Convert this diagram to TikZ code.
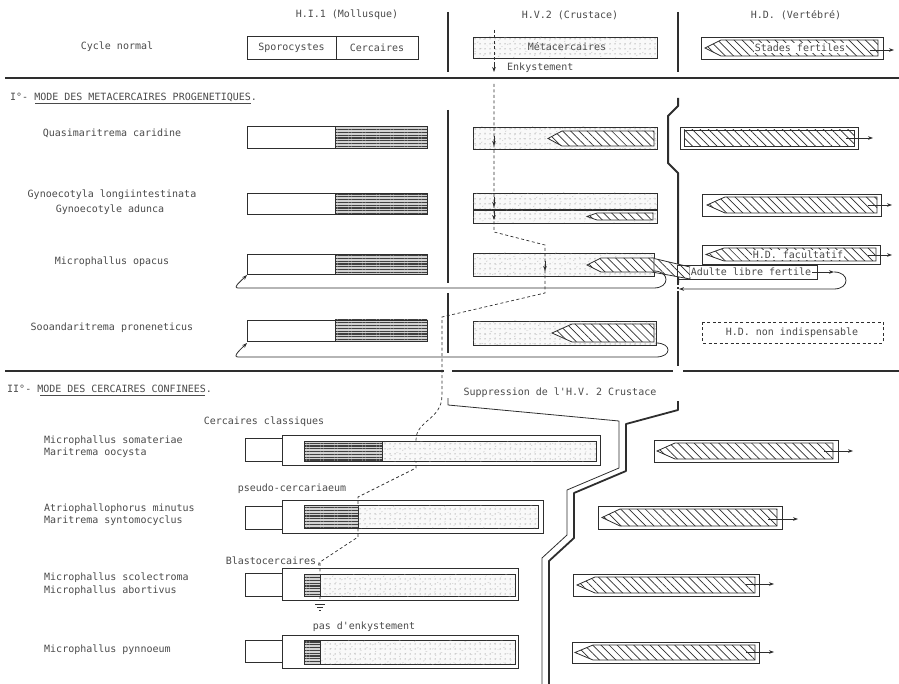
\documentclass[tikz,border=0pt]{standalone}
\usepackage{fontspec}
\newfontfamily\tw{DejaVu Sans Mono}
\usetikzlibrary{patterns.meta,arrows.meta}
\definecolor{lc}{HTML}{2E2E2E}
\definecolor{tc}{HTML}{4A4A4A}
\tikzset{
 ln/.style={draw=lc,line width=0.8pt},
 sec/.style={draw=lc,line width=2.4pt},
 vsep/.style={draw=lc,line width=2pt},
 lab/.style={font=\tw\fontsize{10}{12}\selectfont, text=tc, inner sep=0pt},
 stip/.style={preaction={fill=gray!5}, pattern={Dots[distance=5pt,radius=0.5pt]}, pattern color=gray!75!black,
   postaction={pattern={Dots[distance=6.5pt,radius=0.45pt,angle=25,xshift=2.2pt,yshift=1.6pt]}, pattern color=gray!70}},
 hatch/.style={preaction={fill=white}, pattern={Lines[angle=-45,distance=5.8pt,line width=0.7pt]}, pattern color=lc},
 hl/.style={preaction={fill=gray!35}, pattern={Lines[angle=0,distance=2.8pt,line width=1.3pt]}, pattern color=gray!50!black},
 dsh/.style={draw=lc,line width=0.7pt,dash pattern=on 3pt off 2.5pt},
 arr/.style={-{Stealth[length=5pt,width=3.6pt]}},
 sarr/.style={draw=lc,line width=0.7pt,-{Stealth[length=5pt,width=3.6pt]}},
}
\newcommand\pncl[5]{\draw[ln,hatch] (#1,{(#3+#4)/2}) -- ({#1+#5},#3) -- (#2,#3) -- (#2,#4) -- ({#1+#5},#4) -- cycle;}
\begin{document}
\begin{tikzpicture}[x=1pt,y=-1pt]
\useasboundingbox (0,0) rectangle (899,684);
% ---------- header
\node[lab] (hi) at (347,15) {H.I.1 (Mollusque)};
\node[lab] (hv) at (570,15) {H.V.2 (Crustace)};
\node[lab] (hd) at (796,15) {H.D. (Vertébré)};
\node[lab] (cn) at (117,47) {Cycle normal};
\draw[ln] (247,36) rectangle (418,59); \draw[ln] (336,36)--(336,59);
\node[lab] (spo) at (291.5,47.5) {Sporocystes};
\node[lab] (cer) at (377,47.5) {Cercaires};
\draw[ln,stip] (473,37) rectangle (657,58);
\node[lab] (met) at (567,47) {Métacercaires};
\coordinate (e0) at (494,30); \coordinate (e1) at (494,72);
\draw[dsh] (e0)--(494,64); \draw[sarr] (494,62)--(e1);
\node[lab,anchor=west] (enk) at (507,68) {Enkystement};
\draw[ln] (701,37) rectangle (883,59);
\pncl{705}{878}{40}{56}{16}
\node[lab,fill=white,inner sep=1pt] (sf) at (800,48) {Stades fertiles};
\draw[sarr] (870,50)--(894,50);
\draw[vsep] (448,12)--(448,72);
\draw[vsep] (678,12)--(678,72);
\draw[sec] (5,78)--(899,78);
% ---------- section I
\node[lab,anchor=west] (s1) at (10,97) {I°- MODE DES METACERCAIRES PROGENETIQUES.};
\draw[tc,line width=0.6pt] (35,103.5)--(251,103.5);
\draw[vsep] (448,110)--(448,283);
\draw[vsep] (448,293)--(448,353);
\draw[vsep,line join=round] (678,98)--(678,106)--(668,116)--(668,163)--(678,173)--(678,283);
\draw[lc,line width=1.6pt,dash pattern=on 2pt off 2pt] (678,283)--(678,293);
\draw[vsep] (678,293)--(678,366);
% row 1
\node[lab] (r1) at (112,133) {Quasimaritrema caridine};
\draw[ln] (247,126) rectangle (335,148); \draw[ln,hl] (335,126) rectangle (427,148);
\draw[ln,stip] (473,127) rectangle (657,149);
\pncl{548}{654}{131}{146}{14}
\draw[ln] (680,127) rectangle (858,149);
\draw[ln,hatch] (684,130) rectangle (854,146);
\draw[sarr] (846,138)--(873,138);
% row 2
\node[lab] (r2a) at (112,195) {Gynoecotyla longiintestinata};
\node[lab] (r2b) at (110,210) {Gynoecotyle adunca};
\draw[ln] (247,193) rectangle (335,214); \draw[ln,hl] (335,193) rectangle (427,214);
\draw[ln,stip] (473,193) rectangle (657,209);
\draw[ln,stip] (473,210) rectangle (657,223);
\pncl{587}{653}{213}{220}{10}
\draw[ln] (702,194) rectangle (881,216);
\pncl{707}{877}{197}{213}{18}
\draw[sarr] (868,205)--(892,205);
% row 3
\node[lab] (r3) at (112,262) {Microphallus opacus};
\draw[ln] (247,254) rectangle (335,274); \draw[ln,hl] (335,254) rectangle (427,274);
\draw[ln,stip] (473,253) rectangle (654,276);
\draw[ln,hatch] (652,258)--(690,267)--(690,279)--(652,272)--cycle;
\pncl{587}{654}{258}{272}{14}
\draw[ln] (677,265) rectangle (817,279);
\node[lab,fill=white,inner sep=0.8pt] (alf) at (751,272) {Adulte libre fertile};
\coordinate (a0) at (812,272); \coordinate (a1) at (834,272);
\draw[sarr] (a0)--(a1);
\draw[ln,arr] (834,272) .. controls (850,272) and (850,289) .. (834,289) -- (679,289);
\draw[ln,arr] (654,271) .. controls (670,271) and (670,288) .. (654,288) -- (238,288) to[out=180,in=225] (247,275);
\draw[ln] (702,245) rectangle (880,264);
\pncl{706}{876}{248}{261}{18}
\node[lab,fill=white,inner sep=1pt] (hdf) at (798,255) {H.D. facultatif};
\draw[sarr] (868,255)--(892,255);
% row 4
\node[lab] (r4) at (112,328) {Sooandaritrema proneneticus};
\draw[ln] (247,320) rectangle (335,341); \draw[ln,hl] (335,320) rectangle (427,341);
\draw[ln,stip] (473,321) rectangle (656,345);
\pncl{552}{654}{324}{342}{20}
\draw[ln,arr] (656,343) .. controls (672,343) and (672,357) .. (656,357) -- (238,357) to[out=180,in=225] (247,343);
\draw[dsh] (702,322) rectangle (883,343);
\node[lab] (hdn) at (792,333) {H.D. non indispensable};
% dashed route
\draw[dsh] (494,84) -- (494,232) -- (545,245) -- (545,293) -- (442,317) -- (442,395)
  .. controls (442,420) and (416,420) .. (416,440) -- (416,468) -- (358,497) -- (358,537) -- (320,562) -- (320,600);
\draw[sarr] (494,136)--(494,146);
\draw[sarr] (494,197)--(494,207);
\draw[sarr] (494,210)--(494,220);
\draw[sarr] (545,261)--(545,271);
\draw[sarr] (416,448)--(416,458);
\draw[sarr] (358,518)--(358,528);
\draw[sarr] (320,584)--(320,594);
\draw[lc,line width=0.6pt] (315,604)--(325,604) (317,607)--(323,607) (319,610)--(321,610);
% section II
\draw[sec] (5,371)--(444,371);
\draw[sec] (452,371)--(673,371);
\draw[sec] (683,371)--(899,371);
\node[lab,anchor=west] (s2) at (7,389) {II°- MODE DES CERCAIRES CONFINEES.};
\draw[tc,line width=0.6pt] (40,395.5)--(205,395.5);
\node[lab] (sup) at (560,393) {Suppression de l'H.V. 2 Crustace};
\draw[lc,line width=0.8pt,line join=round] (448,398)--(448,405)--(619,421)--(619,468)--(567,490)--(567,535)--(542,558)--(542,684);
\draw[lc,line width=1.8pt,line join=round] (678,401)--(678,410)--(626,424)--(626,471)--(574,493)--(574,538)--(549,561)--(549,684);
% II row 1
\node[lab] (cc) at (264,422) {Cercaires classiques};
\node[lab,anchor=west] (q1a) at (44,441) {Microphallus somateriae};
\node[lab,anchor=west] (q1b) at (44,453) {Maritrema oocysta};
\draw[ln] (245,438) rectangle (282,461);
\draw[ln] (282,435) rectangle (600,465);
\draw[ln,hl] (304,441) rectangle (382,461);
\draw[ln,stip] (382,441) rectangle (596,461);
\draw[ln] (654,440) rectangle (838,462);
\pncl{657}{833}{443}{459}{18}
\draw[sarr] (824,451)--(853,451);
% II row 2
\node[lab] (pc) at (292,489) {pseudo-cercariaeum};
\node[lab,anchor=west] (q2a) at (44,509) {Atriophallophorus minutus};
\node[lab,anchor=west] (q2b) at (44,521) {Maritrema syntomocyclus};
\draw[ln] (245,506) rectangle (282,529);
\draw[ln] (282,500) rectangle (543,533);
\draw[ln,hl] (304,505) rectangle (358,528);
\draw[ln,stip] (358,505) rectangle (538,528);
\draw[ln] (598,506) rectangle (782,529);
\pncl{602}{777}{509}{526}{18}
\draw[sarr] (768,519)--(798,519);
% II row 3
\node[lab] (bc) at (274,561) {Blastocercaires,};
\node[lab,anchor=west] (q3a) at (44,578) {Microphallus scolectroma};
\node[lab,anchor=west] (q3b) at (44,591) {Microphallus abortivus};
\draw[ln] (245,573) rectangle (282,596);
\draw[ln] (282,568) rectangle (518,600);
\draw[ln,hl] (304,574) rectangle (320,596);
\draw[ln,stip] (320,574) rectangle (515,596);
\draw[ln] (573,574) rectangle (759,596);
\pncl{577}{755}{577}{593}{18}
\draw[sarr] (746,584)--(774,584);
% II row 4
\node[lab] (pe) at (364,627) {pas d'enkystement};
\node[lab,anchor=west] (q4) at (44,650) {Microphallus pynnoeum};
\draw[ln] (245,640) rectangle (282,662);
\draw[ln] (282,635) rectangle (518,668);
\draw[ln,hl] (304,640) rectangle (320,664);
\draw[ln,stip] (320,640) rectangle (515,664);
\draw[ln] (572,642) rectangle (759,663);
\pncl{575}{755}{645}{660}{18}
\draw[sarr] (746,652)--(774,652);
\end{tikzpicture}
\end{document}
